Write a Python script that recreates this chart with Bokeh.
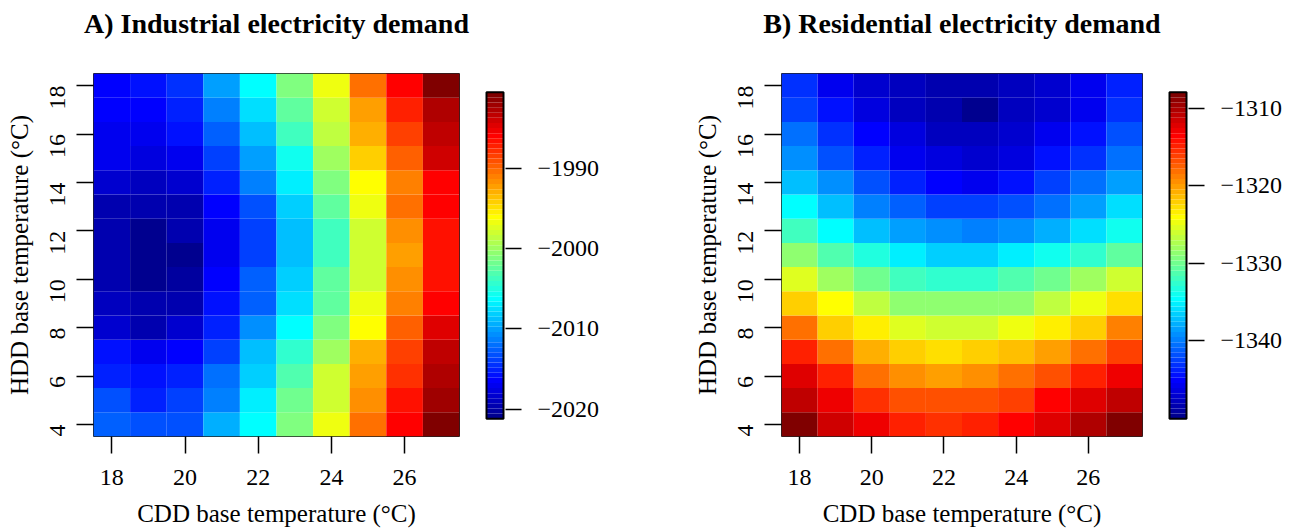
import math
import numpy as np
from bokeh.plotting import figure
from bokeh.models import ColumnDataSource, LinearColorMapper, LinearAxis, FixedTicker, Range1d
from bokeh.layouts import row
from bokeh.embed import file_html
from bokeh.resources import INLINE

# ---------------- data ----------------
cdd_base = [18, 19, 20, 21, 22, 23, 24, 25, 26, 27]
hdd_base = [4, 5, 6, 7, 8, 9, 10, 11, 12, 13, 14, 15, 16, 17, 18]

# rows: HDD 4 -> 18, columns: CDD 18 -> 27
industrial = [
    [-2012.4, -2013.2, -2013.2, -2009.5, -2006.1, -2001.4, -1996.5, -1990.3, -1986.2, -1980.7],
    [-2013.2, -2015.1, -2014.0, -2011.2, -2006.7, -2001.8, -1997.7, -1991.5, -1986.6, -1982.1],
    [-2014.9, -2015.7, -2015.3, -2012.0, -2007.9, -2003.0, -1998.1, -1992.4, -1987.5, -1982.5],
    [-2015.7, -2016.9, -2016.3, -2013.6, -2009.1, -2004.6, -1999.7, -1993.2, -1988.7, -1983.4],
    [-2018.5, -2019.4, -2018.5, -2015.3, -2010.8, -2006.1, -2001.4, -1995.8, -1989.9, -1984.6],
    [-2019.0, -2019.8, -2019.6, -2015.7, -2012.4, -2007.5, -2002.2, -1996.9, -1991.1, -1986.2],
    [-2019.4, -2020.6, -2020.2, -2016.5, -2012.8, -2008.3, -2002.6, -1997.7, -1991.5, -1986.6],
    [-2019.8, -2021.2, -2020.6, -2017.3, -2013.6, -2008.7, -2003.4, -1997.7, -1992.0, -1986.6],
    [-2019.6, -2020.6, -2019.6, -2016.9, -2013.6, -2008.7, -2003.4, -1997.7, -1991.5, -1986.6],
    [-2019.4, -2019.8, -2019.4, -2016.3, -2013.2, -2007.9, -2002.6, -1996.9, -1990.3, -1986.2],
    [-2018.1, -2019.0, -2018.5, -2015.3, -2011.2, -2006.7, -2001.4, -1995.8, -1990.7, -1985.6],
    [-2017.3, -2017.7, -2016.9, -2014.0, -2009.9, -2005.4, -2000.1, -1994.0, -1989.5, -1984.2],
    [-2016.9, -2016.9, -2016.1, -2012.4, -2008.7, -2003.8, -1998.9, -1992.8, -1988.3, -1983.4],
    [-2016.3, -2016.3, -2014.9, -2011.2, -2007.5, -2002.6, -1997.7, -1992.0, -1987.0, -1982.5],
    [-2016.3, -2015.7, -2014.4, -2009.9, -2006.1, -2001.4, -1996.5, -1990.3, -1985.6, -1980.5],
]

residential = [
    [-1308.3, -1311.2, -1313.1, -1314.6, -1315.5, -1315.0, -1313.8, -1312.1, -1310.4, -1307.9],
    [-1310.8, -1313.1, -1315.5, -1317.1, -1317.1, -1317.1, -1315.9, -1313.8, -1312.1, -1310.8],
    [-1312.5, -1315.0, -1318.0, -1319.3, -1320.1, -1319.7, -1318.4, -1316.7, -1314.6, -1312.9],
    [-1315.0, -1318.4, -1320.5, -1321.8, -1322.6, -1321.8, -1321.4, -1320.1, -1318.4, -1315.9],
    [-1318.4, -1321.8, -1323.7, -1325.6, -1326.0, -1326.0, -1324.8, -1323.7, -1321.8, -1318.8],
    [-1321.8, -1324.3, -1326.9, -1328.6, -1329.0, -1329.0, -1328.6, -1326.9, -1324.8, -1322.6],
    [-1325.2, -1328.1, -1330.2, -1331.9, -1332.4, -1332.4, -1331.5, -1329.8, -1328.1, -1326.0],
    [-1328.6, -1331.5, -1333.6, -1335.5, -1336.6, -1336.6, -1335.5, -1334.0, -1332.4, -1330.7],
    [-1331.9, -1334.7, -1337.0, -1338.7, -1339.5, -1340.0, -1339.1, -1337.9, -1336.2, -1334.0],
    [-1334.3, -1337.4, -1340.0, -1341.2, -1342.5, -1342.5, -1342.1, -1340.4, -1338.7, -1336.2],
    [-1337.0, -1339.5, -1342.1, -1343.8, -1345.0, -1345.5, -1344.2, -1342.5, -1340.8, -1338.3],
    [-1339.1, -1341.7, -1343.8, -1345.5, -1346.7, -1347.1, -1346.3, -1344.2, -1342.9, -1340.4],
    [-1340.8, -1342.9, -1345.0, -1346.7, -1347.6, -1348.0, -1347.1, -1345.9, -1344.6, -1342.1],
    [-1342.5, -1344.2, -1346.3, -1347.6, -1348.2, -1350.1, -1348.0, -1347.1, -1345.5, -1343.3],
    [-1342.9, -1345.5, -1347.1, -1348.0, -1348.2, -1348.4, -1348.0, -1347.1, -1345.5, -1343.8],
]

x_ticks = [18, 20, 22, 24, 26]
y_ticks = [4, 6, 8, 10, 12, 14, 16, 18]
ind_cbar_ticks = [-2020, -2010, -2000, -1990]
res_cbar_ticks = [-1340, -1330, -1320, -1310]

title_a = "A) Industrial electricity demand"
title_b = "B) Residential electricity demand"
x_label = "CDD base temperature (°C)"
y_label = "HDD base temperature (°C)"

FONT = "Liberation Serif"
H = 529
TOP = 73
FRAME = 366
BOTTOM = H - TOP - FRAME


def jet_palette(m=64):
    n = int(math.ceil(m / 4))
    u = [i / n for i in range(1, n + 1)] + [1.0] * (n - 1) + [i / n for i in range(n, 0, -1)]
    g0 = int(math.ceil(n / 2)) - (1 if m % 4 == 1 else 0)
    r = [0.0] * m
    g = [0.0] * m
    b = [0.0] * m
    for k, val in enumerate(u):
        gi = g0 + k
        ri = gi + n
        bi = gi - n
        if 0 <= gi < m:
            g[gi] = val
        if 0 <= ri < m:
            r[ri] = val
        if 0 <= bi < m:
            b[bi] = val
    return ["#%02x%02x%02x" % (int(round(rr * 255)), int(round(gg * 255)), int(round(bb * 255)))
            for rr, gg, bb in zip(r, g, b)]


PALETTE = jet_palette(64)


def minus(v):
    return str(v).replace("-", "\u2212")


def style_axis(ax, ticks):
    ax.ticker = FixedTicker(ticks=ticks, minor_ticks=[])
    ax.axis_line_color = None
    ax.major_tick_out = 17
    ax.major_tick_in = 0
    ax.major_tick_line_width = 1.5
    ax.major_tick_line_color = "black"
    ax.minor_tick_line_color = None
    ax.major_label_text_font = FONT
    ax.major_label_text_font_size = "24px"
    ax.major_label_text_color = "black"
    ax.axis_label_text_font = FONT
    ax.axis_label_text_font_size = "25px"
    ax.axis_label_text_font_style = "normal"
    ax.axis_label_text_color = "black"


def heatmap(values, title, width, border_left, border_right):
    lo = float(np.min(values))
    hi = float(np.max(values))
    mapper = LinearColorMapper(palette=PALETTE, low=lo, high=hi)
    xs, ys, vs = [], [], []
    for i, h in enumerate(hdd_base):
        for j, c in enumerate(cdd_base):
            xs.append(c)
            ys.append(h)
            vs.append(values[i][j])
    src = ColumnDataSource(dict(cdd=xs, hdd=ys, val=vs))
    x0, x1 = cdd_base[0] - 0.5, cdd_base[-1] + 0.5
    y0, y1 = hdd_base[0] - 0.5, hdd_base[-1] + 0.5
    p = figure(width=width, height=H, output_backend="svg", toolbar_location=None,
               x_range=Range1d(x0, x1), y_range=Range1d(y0, y1),
               min_border_left=border_left, min_border_right=border_right,
               min_border_top=TOP, min_border_bottom=BOTTOM)
    p.rect(x="cdd", y="hdd", width=1, height=1, source=src,
           fill_color={"field": "val", "transform": mapper}, line_color=None)
    p.grid.visible = False
    p.outline_line_color = "#222222"
    p.outline_line_width = 1
    p.background_fill_color = "white"
    p.border_fill_color = "white"

    bottom_ax = p.below[0]
    left_ax = p.left[0]
    style_axis(bottom_ax, x_ticks)
    style_axis(left_ax, y_ticks)
    bottom_ax.axis_label = x_label
    left_ax.axis_label = y_label
    bottom_ax.major_label_standoff = 16
    bottom_ax.axis_label_standoff = 12
    left_ax.major_label_orientation = math.pi / 2
    left_ax.major_label_standoff = 19
    left_ax.axis_label_standoff = 7

    # title drawn as the label of an otherwise empty top axis
    top_ax = LinearAxis(ticker=FixedTicker(ticks=[], minor_ticks=[]))
    top_ax.axis_line_color = None
    top_ax.major_tick_out = 0
    top_ax.major_tick_in = 0
    top_ax.major_tick_line_color = None
    top_ax.minor_tick_line_color = None
    top_ax.major_label_standoff = 0
    top_ax.major_label_text_font_size = "1px"
    top_ax.axis_label = title
    top_ax.axis_label_standoff = 35
    top_ax.axis_label_text_font = FONT
    top_ax.axis_label_text_font_size = "28px"
    top_ax.axis_label_text_font_style = "bold"
    top_ax.axis_label_text_color = "black"
    p.add_layout(top_ax, "above")
    return p, lo, hi


def colorbar(lo, hi, ticks, width, border_left, border_right):
    span = hi - lo
    px = span / 329.0
    p = figure(width=width, height=H, output_backend="svg", toolbar_location=None,
               x_range=Range1d(-2 / 17, 19 / 17),
               y_range=Range1d(lo - 18 * px, hi + 19 * px),
               x_axis_location=None, y_axis_location=None,
               min_border_left=border_left, min_border_right=border_right,
               min_border_top=TOP, min_border_bottom=BOTTOM)
    edges = np.linspace(lo, hi, len(PALETTE) + 1)
    p.quad(left=0, right=1, bottom=edges[:-1], top=edges[1:], fill_color=PALETTE,
           line_color=None)
    p.quad(left=[0], right=[1], bottom=[lo], top=[hi], fill_color=None,
           line_color="black", line_width=2)
    p.grid.visible = False
    p.outline_line_color = None
    ax = LinearAxis(ticker=FixedTicker(ticks=ticks, minor_ticks=[]))
    ax.major_label_overrides = {t: minus(t) for t in ticks}
    ax.axis_line_color = None
    ax.major_tick_out = 16
    ax.major_tick_in = 0
    ax.major_tick_line_width = 1.5
    ax.major_tick_line_color = "black"
    ax.minor_tick_line_color = None
    ax.major_label_standoff = 16
    ax.major_label_text_font = FONT
    ax.major_label_text_font_size = "24px"
    ax.major_label_text_color = "black"
    p.add_layout(ax, "right")
    return p


pa, lo_a, hi_a = heatmap(industrial, title_a, 470, 93, 11)
ca = colorbar(lo_a, hi_a, ind_cbar_ticks, 220, 14, 185)
pb, lo_b, hi_b = heatmap(residential, title_b, 475, 86, 23)
cb = colorbar(lo_b, hi_b, res_cbar_ticks, 135, 2, 112)

layout = row(pa, ca, pb, cb)

with open("out.html", "w") as f:
    f.write(file_html(layout, INLINE))
